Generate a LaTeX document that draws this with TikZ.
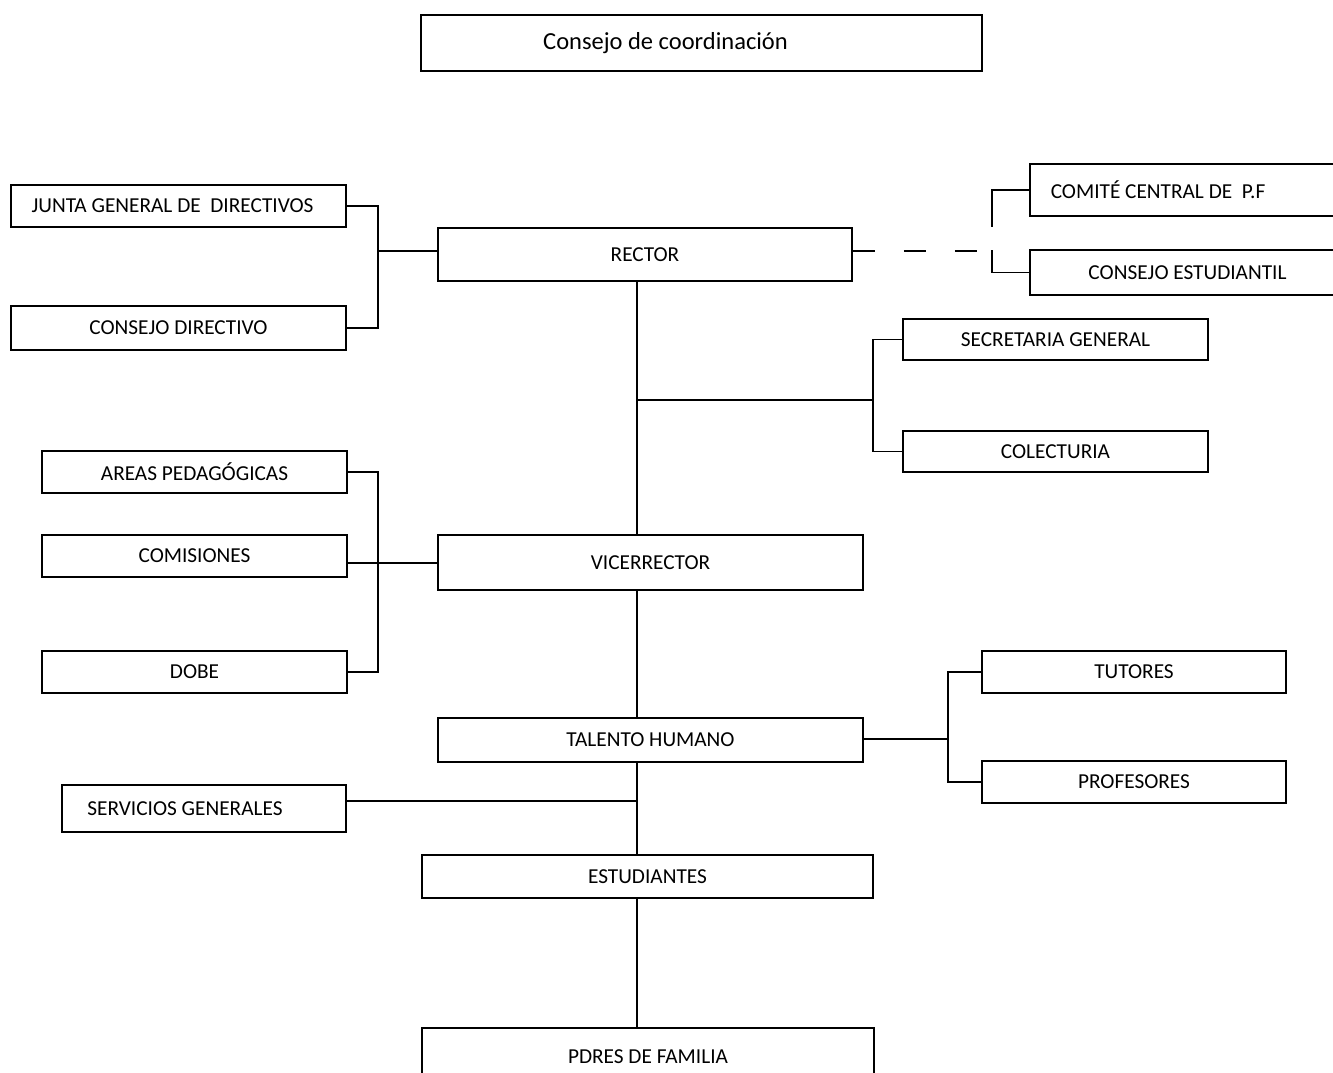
\documentclass[tikz,border=0pt]{standalone}
\usepackage{fontspec}
\setmainfont{Carlito}
\usetikzlibrary{positioning}

\begin{document}
\begin{tikzpicture}[
  x=1pt,y=-1pt,
  font=\fontsize{21.3}{23}\selectfont,
  box/.style={draw,line width=1.5pt,inner sep=0pt,align=center},
  title/.style={box,font=\fontsize{24.5}{27}\selectfont},
  link/.style={line width=1.5pt},
  dlink/.style={line width=1.5pt,dash pattern=on 22pt off 29pt}
]
\useasboundingbox (0,0) rectangle (1333,1072);
\clip (0,0) rectangle (1333,1072);

% ---- header ----
\node[title,minimum width=561pt,minimum height=56pt] (coord) at (701.5,43) {\hspace*{-72pt}Consejo de coordinación};

% ---- main column ----
\node[box,minimum width=414pt,minimum height=53pt] (rector) at (645,254.5) {RECTOR};
\node[box,minimum width=425pt,minimum height=55pt] (vice) at (650.5,562.5) {VICERRECTOR};
\node[box,minimum width=425pt,minimum height=44pt] (talento) at (650.5,740) {TALENTO HUMANO};
\node[box,minimum width=451pt,minimum height=43pt] (estud) at (647.5,876.5) {ESTUDIANTES};
\node[box,minimum width=452pt,minimum height=57pt] (padres) at (648,1056.5) {PDRES DE FAMILIA};

% ---- left side ----
\node[box,minimum width=335pt,minimum height=42pt] (junta) at (178.5,206) {\hspace*{-12pt}JUNTA GENERAL DE \ DIRECTIVOS};
\node[box,minimum width=335pt,minimum height=44pt] (cdir) at (178.5,328) {CONSEJO DIRECTIVO};
\node[box,minimum width=305pt,minimum height=42pt] (areas) at (194.5,472) {AREAS PEDAGÓGICAS};
\node[box,minimum width=305pt,minimum height=42pt] (comis) at (194.5,556) {COMISIONES};
\node[box,minimum width=305pt,minimum height=42pt] (dobe) at (194.5,672) {DOBE};
\node[box,minimum width=284pt,minimum height=47pt] (serv) at (204,808.5) {\hspace*{-38pt}SERVICIOS GENERALES};

% ---- right side ----
\node[box,minimum width=315pt,minimum height=52pt] (comite) at (1187.5,190) {};
\node[anchor=west] at (comite.west) {\hspace*{18pt}COMITÉ CENTRAL DE \ P.F};
\node[box,minimum width=315pt,minimum height=45pt] (cest) at (1187.5,272.5) {CONSEJO ESTUDIANTIL};
\node[box,minimum width=305pt,minimum height=41pt] (secre) at (1055.5,339.5) {SECRETARIA GENERAL};
\node[box,minimum width=305pt,minimum height=41pt] (colec) at (1055.5,451.5) {COLECTURIA};
\node[box,minimum width=304pt,minimum height=42pt] (tutor) at (1134,672) {TUTORES};
\node[box,minimum width=304pt,minimum height=42pt] (profe) at (1134,782) {PROFESORES};

% ---- connectors ----
\coordinate (jl) at (378,251);
\coordinate (sc) at (637,400);
\coordinate (sr) at (873,400);
\coordinate (vl) at (378,563);
\coordinate (tr) at (948,739);
\coordinate (sv) at (637,801);
\coordinate (dr) at (992,251);

\draw[link] (rector.south -| sc) -- (vice.north -| sc);
\draw[link] (vice.south -| sc) -- (talento.north -| sc);
\draw[link] (talento.south -| sc) -- (estud.north -| sc);
\draw[link] (estud.south -| sc) -- (padres.north -| sc);

\draw[link] (junta.east) -| (jl) |- (cdir.east);
\draw[link] (jl) -- (rector.west |- jl);

\draw[link] (sc) -- (sr);
\draw[link] (secre.west) -| (sr) |- (colec.west);

\draw[link] (areas.east) -| (vl) |- (dobe.east);
\draw[link] (comis.east |- vl) -- (vice.west |- vl);

\draw[link] (talento.east |- tr) -- (tr);
\draw[link] (tutor.west) -| (tr) |- (profe.west);

\draw[link] (serv.east |- sv) -- (sv);

\draw[dlink] (rector.east |- dr) -- (dr);
\draw[link] (comite.west) -| (992,227);
\draw[link] (cest.west) -| (992,250);

\end{tikzpicture}
\end{document}
